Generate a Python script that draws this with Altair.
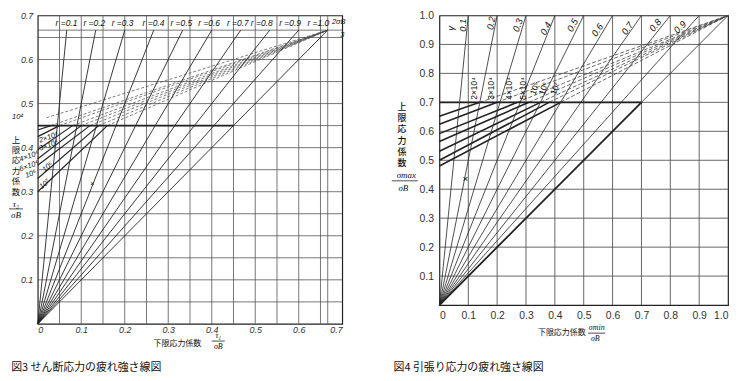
import altair as alt
import pandas as pd

# ---------------- 図3 : shear fatigue diagram ----------------
L_ratio = [0.1, 0.2, 0.3, 0.4, 0.5, 0.6, 0.7, 0.8, 0.9, 1.0]
L_ratio_text = ["r =0.1", "r =0.2", "r =0.3", "r =0.4", "r =0.5",
                "r =0.6", "r =0.7", "r =0.8", "r =0.9", "r =1.0"]
L_ratio_lab_x = [0.066, 0.13, 0.195, 0.266, 0.33, 0.394, 0.46, 0.515, 0.58, 0.645]
L_apex = 2 / 3
L_yield = 0.45
L_ticks = [0, 0.1, 0.2, 0.3, 0.4, 0.5, 0.6, 0.7]
L_grid = [0.05, 0.1, 0.15, 0.2, 0.25, 0.3, 0.35, 0.4, 0.45, 0.5, 0.55, 0.6, 0.65, 2 / 3]
L_N_text = ["10⁴", "2×10⁴", "3×10⁴", "4×10⁴", "6×10⁴", "10⁵", "10⁶", "10⁷"]
L_N_start = [0.468, 0.44, 0.425, 0.395, 0.375, 0.36, 0.33, 0.30]
L_N_knee = [0.02, 0.03, 0.05, 0.08, 0.10, 0.12, 0.14, 0.16]
L_N_lab_x = [-0.046, 0.025, 0.025, -0.02, -0.02, -0.016, 0.023, 0.016]
L_N_lab_y = [0.470, 0.423, 0.405, 0.380, 0.358, 0.340, 0.356, 0.317]
L_N_lab_angle = [0, 340, 340, 340, 340, 340, 320, 320]

# ---------------- 図4 : tension fatigue diagram ----------------
R_ratio = [0.1, 0.2, 0.3, 0.4, 0.5, 0.6, 0.7, 0.8, 0.9]
R_ratio_text = ["0.1", "0.2", "0.3", "0.4", "0.5", "0.6", "0.7", "0.8", "0.9"]
R_ratio_lab_x = [0.083, 0.18, 0.272, 0.369, 0.462, 0.548, 0.652, 0.748, 0.834]
R_ratio_lab_y = [0.966, 0.973, 0.966, 0.955, 0.966, 0.949, 0.955, 0.966, 0.959]
R_ratio_lab_angle = [270, 282, 290, 298, 298, 305, 305, 310, 315]
R_yield = 0.7
R_ticks = [0, 0.1, 0.2, 0.3, 0.4, 0.5, 0.6, 0.7, 0.8, 0.9, 1.0]
R_grid = [0.1, 0.2, 0.3, 0.4, 0.5, 0.6, 0.7, 0.8, 0.9]
R_N_text = ["2×10⁴", "3×10⁴", "4×10⁴", "5×10⁴", "10⁵", "10⁶", "10⁷"]
R_N_start = [0.652, 0.624, 0.592, 0.565, 0.531, 0.500, 0.480]
R_N_knee = [0.14, 0.20, 0.27, 0.31, 0.35, 0.38, 0.42]
R_N_lab_x = [0.12, 0.18, 0.24, 0.29, 0.33, 0.36, 0.40]
R_N_lab_angle = [270, 270, 270, 270, 290, 290, 290]

Y_TITLE_CHARS = ["上", "限", "応", "力", "係", "数"]

INK = "#222222"
GRID = "#555555"
TXT = "#111111"


def segs(rows):
    return pd.DataFrame(rows, columns=["x", "y", "x2", "y2"])


def rule_layer(df, width, color=INK, dash=None):
    kw = dict(color=color, strokeWidth=width)
    if dash:
        kw["strokeDash"] = dash
    return alt.Chart(df).mark_rule(**kw).encode(x2="x2:Q", y2="y2:Q")


def text_layer(df, **kw):
    enc = dict(text="t:N")
    if "a" in df.columns:
        enc["angle"] = alt.Angle("a:Q", scale=None)
    kw.setdefault("fill", TXT)
    return alt.Chart(df).mark_text(**kw).encode(**enc)


def axis_point(dom):
    return alt.Chart(pd.DataFrame({"x": dom, "y": dom})).mark_point(opacity=0)


def stacked(chars, x, y_top, step):
    return pd.DataFrame({"t": chars, "x": [x] * len(chars),
                         "y": [y_top - i * step for i in range(len(chars))]})


# ================= left chart =================
lxs = alt.Scale(domain=[0, 0.7], nice=False, zero=False)
lys = alt.Scale(domain=[0, 0.7], nice=False, zero=False)
L_label_font = dict(labelFont="Liberation Sans", labelFontStyle="italic", labelFontSize=9,
                    labelColor="#333")

l_grid = segs([(g, 0, g, 0.7) for g in L_grid] + [(0, g, 0.7, g) for g in L_grid])
l_rays = segs([(0, 0, r * L_apex, L_apex) for r in L_ratio])
l_bold = segs([(0, L_yield, L_yield, L_yield)])
l_solid = segs([(0, s, k, L_yield) for s, k in zip(L_N_start[1:], L_N_knee[1:])])
l_dash = segs([(k, L_yield if i > 0 else L_N_start[0], L_apex, L_apex)
               for i, k in enumerate(L_N_knee)])

l_ratio_lab = pd.DataFrame({"t": L_ratio_text, "x": L_ratio_lab_x,
                            "y": [0.683] * len(L_ratio)})
l_N_lab = pd.DataFrame({"t": L_N_text, "x": L_N_lab_x, "y": L_N_lab_y, "a": L_N_lab_angle})
l_misc = pd.DataFrame({"t": ["2σB", "3", "×"], "x": [0.692, 0.70, 0.125], "y": [0.684, 0.656, 0.318]})
l_ytitle = stacked(Y_TITLE_CHARS, -0.05, 0.418, 0.0236)
l_yfrac = pd.DataFrame({"t": ["τ₂", "σB"], "x": [-0.05, -0.05], "y": [0.273, 0.246]})
l_yfrac_bar = segs([(-0.066, 0.261, -0.034, 0.261)])
l_xtitle = pd.DataFrame({"t": ["下限応力係数"], "x": [0.321], "y": [-0.045]})
l_xfrac = pd.DataFrame({"t": ["τ₁", "σB"], "x": [0.415, 0.415], "y": [-0.028, -0.053]})
l_xfrac_bar = segs([(0.40, -0.039, 0.43, -0.039)])
l_caption = pd.DataFrame({"t": ["図3 せん断応力の疲れ強さ線図"], "x": [-0.061], "y": [-0.101]})

left = alt.layer(
    axis_point([0, 0.7]),
    rule_layer(l_grid, 0.8, GRID),
    rule_layer(l_rays, 0.9),
    rule_layer(l_dash, 0.7, "#444", [3, 2]),
    rule_layer(l_solid, 1.2),
    rule_layer(l_bold, 2),
    rule_layer(l_yfrac_bar, 0.8),
    rule_layer(l_xfrac_bar, 0.8),
    text_layer(l_ratio_lab, font="Liberation Sans", fontStyle="italic", fontSize=8.5),
    text_layer(l_N_lab, font="Liberation Sans", fontStyle="italic", fontSize=7.5),
    text_layer(l_misc, font="Liberation Sans", fontStyle="italic", fontSize=7.5),
    text_layer(l_ytitle, font="Noto Sans CJK JP", fontSize=8.5),
    text_layer(l_yfrac, font="Liberation Serif", fontStyle="italic", fontSize=9),
    text_layer(l_xtitle, font="Noto Sans CJK JP", fontSize=8),
    text_layer(l_xfrac, font="Liberation Serif", fontStyle="italic", fontSize=8),
    text_layer(l_caption, font="Noto Sans CJK JP", fontSize=11, align="left"),
).encode(
    x=alt.X("x:Q", scale=lxs, axis=alt.Axis(
        values=L_ticks, grid=False, ticks=False, domain=False, title=None,
        labelExpr="datum.value == 0 ? '0' : format(datum.value, '.1f')",
        labelPadding=2, **L_label_font)),
    y=alt.Y("y:Q", scale=lys, axis=alt.Axis(
        values=L_ticks[1:], grid=False, ticks=False, domain=False, title=None,
        labelExpr="format(datum.value, '.1f')", labelPadding=5, **L_label_font)),
).properties(width=307, height=311)

# ================= right chart =================
rxs = alt.Scale(domain=[0, 1], nice=False, zero=False)
rys = alt.Scale(domain=[0, 1], nice=False, zero=False)
R_label_font = dict(labelFont="Liberation Sans", labelFontSize=10.5, labelColor="#333")

r_grid = segs([(g, 0, g, 1) for g in R_grid] + [(0, g, 1, g) for g in R_grid])
r_rays = segs([(0, 0, r, 1) for r in R_ratio] + [(0, 0, 1, 1)])
r_bold = segs([(0, R_yield, R_yield, R_yield), (0, 0, R_yield, R_yield)])
r_solid = segs([(0, s, k, R_yield) for s, k in zip(R_N_start, R_N_knee)])
r_dash = segs([(k, R_yield, 1, 1) for k in R_N_knee])

r_ratio_lab = pd.DataFrame({"t": ["γ"] + R_ratio_text,
                            "x": [0.041] + R_ratio_lab_x,
                            "y": [0.955] + R_ratio_lab_y,
                            "a": [270] + R_ratio_lab_angle})
r_N_lab = pd.DataFrame({"t": R_N_text, "x": R_N_lab_x, "y": [0.748] * len(R_N_text), "a": R_N_lab_angle})
r_misc = pd.DataFrame({"t": ["×"], "x": [0.09], "y": [0.435]})
r_ytitle = stacked(Y_TITLE_CHARS, -0.13, 0.685, 0.039)
r_yfrac = pd.DataFrame({"t": ["σmax", "σB"], "x": [-0.115, -0.125], "y": [0.45, 0.405]})
r_yfrac_bar = segs([(-0.165, 0.429, -0.075, 0.429)])
r_xtitle = pd.DataFrame({"t": ["下限応力係数"], "x": [0.424], "y": [-0.096]})
r_xfrac = pd.DataFrame({"t": ["σmin", "σB"], "x": [0.545, 0.54], "y": [-0.078, -0.118]})
r_xfrac_bar = segs([(0.515, -0.097, 0.575, -0.097)])
r_caption = pd.DataFrame({"t": ["図4 引張り応力の疲れ強さ線図"], "x": [-0.159], "y": [-0.219]})

right = alt.layer(
    axis_point([0, 1]),
    rule_layer(r_grid, 0.9, GRID),
    rule_layer(r_rays, 0.8),
    rule_layer(r_dash, 0.8, "#444", [4, 2]),
    rule_layer(r_solid, 1.6),
    rule_layer(r_bold, 1.8),
    rule_layer(r_yfrac_bar, 0.8),
    rule_layer(r_xfrac_bar, 0.8),
    text_layer(r_ratio_lab, font="Liberation Sans", fontStyle="italic", fontSize=9.5),
    text_layer(r_N_lab, font="Liberation Sans", fontSize=8.5),
    text_layer(r_misc, font="Liberation Sans", fontSize=10),
    text_layer(r_ytitle, font="Noto Sans CJK JP", fontSize=9, fontWeight=500),
    text_layer(r_yfrac, font="Liberation Serif", fontStyle="italic", fontSize=9),
    text_layer(r_xtitle, font="Noto Sans CJK JP", fontSize=8),
    text_layer(r_xfrac, font="Liberation Serif", fontStyle="italic", fontSize=8),
    text_layer(r_caption, font="Noto Sans CJK JP", fontSize=11, align="left"),
).encode(
    x=alt.X("x:Q", scale=rxs, axis=alt.Axis(
        values=R_ticks, grid=False, ticks=False, domain=False, title=None,
        labelExpr="datum.value == 0 ? '0' : format(datum.value, '.1f')",
        labelPadding=6, **R_label_font)),
    y=alt.Y("y:Q", scale=rys, axis=alt.Axis(
        values=R_ticks[1:], grid=False, ticks=False, domain=False, title=None,
        labelExpr="format(datum.value, '.1f')", labelPadding=6, **R_label_font)),
).properties(width=291, height=292)

chart = alt.hconcat(left, right, spacing=44).properties(padding=0).configure_view(
    stroke="#222", strokeWidth=1.2)

chart.save("out.html", embed_options={"renderer": "svg", "actions": False})
